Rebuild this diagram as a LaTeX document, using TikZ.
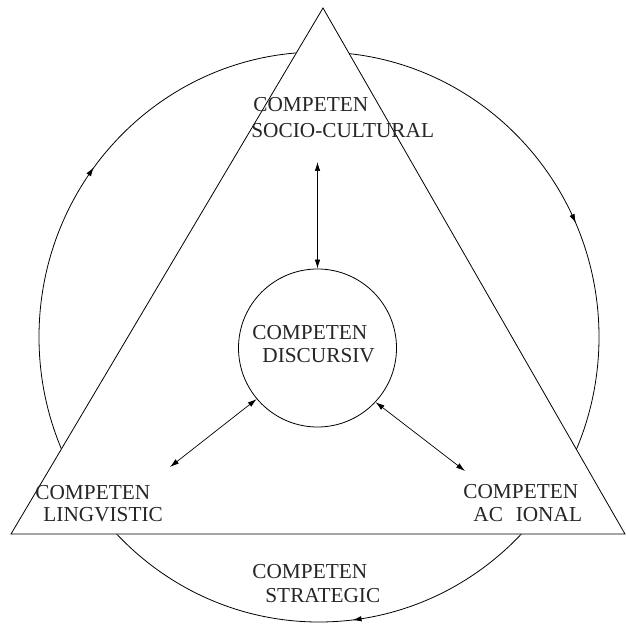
\documentclass[tikz,border=0pt]{standalone}
\usepackage{fontspec}
\setmainfont{Liberation Serif}
\usetikzlibrary{arrows.meta,decorations.markings}
\begin{document}
\begin{tikzpicture}[x=1pt,y=1pt,
  line width=0.8pt,
  lbl/.style={anchor=base west,inner sep=0pt,font=\fontsize{21.3}{25}\selectfont,text=black!85},
  tip/.style={Latex[length=9pt,width=5.5pt]},
  dbl/.style={line width=0.7pt,{Latex[length=9pt,width=5.5pt]}-{Latex[length=9pt,width=5.5pt]}},
  flow/.style={postaction={decorate},decoration={markings,
    mark=at position 0.071 with {\arrow{Latex[reversed,length=9pt,width=5.5pt]}},
    mark=at position 0.403 with {\arrow{Latex[reversed,length=9pt,width=5.5pt]}},
    mark=at position 0.774 with {\arrow{Latex[reversed,length=9pt,width=5.5pt]}}}}]
\useasboundingbox (0,0) rectangle (626,624);

% outer cycle, covered by the white triangle
\draw[flow] (319,287) ellipse [x radius=280, y radius=285];
\coordinate (ta) at (323,616);
\coordinate (tb) at (11,90);
\coordinate (tc) at (625,90);
\draw[fill=white,line join=miter] (ta) -- (tb) -- (tc) -- cycle;

% central circle
\node[draw,circle,minimum size=158pt,inner sep=0pt] (disc) at (317.5,276) {};

% arrow ends
\coordinate (up) at (317.5,462);
\coordinate (ll) at (170,157);
\coordinate (lr) at (465,153);
\draw[dbl] (up) -- (disc.north);
\draw[dbl] (disc.220) -- (ll);
\draw[dbl] (disc.-43) -- (lr);

% labels
\node[lbl] (top1) at (253,512) {COMPETEN};
\node[lbl] (top2) at (251,486) {SOCIO-CULTURAL};
\node[lbl] (dis1) at (252,284) {COMPETEN};
\node[lbl] (dis2) at (262,261) {DISCURSIV};
\node[lbl] (lin1) at (35,125) {COMPETEN};
\node[lbl] (lin2) at (43,103) {LINGVISTIC};
\node[lbl] (act1) at (463,126) {COMPETEN};
\node[lbl] (act2) at (473,103) {AC\hspace{0.6em}IONAL};
\node[lbl] (str1) at (252,46) {COMPETEN};
\node[lbl] (str2) at (265,22) {STRATEGIC};
\end{tikzpicture}
\end{document}
